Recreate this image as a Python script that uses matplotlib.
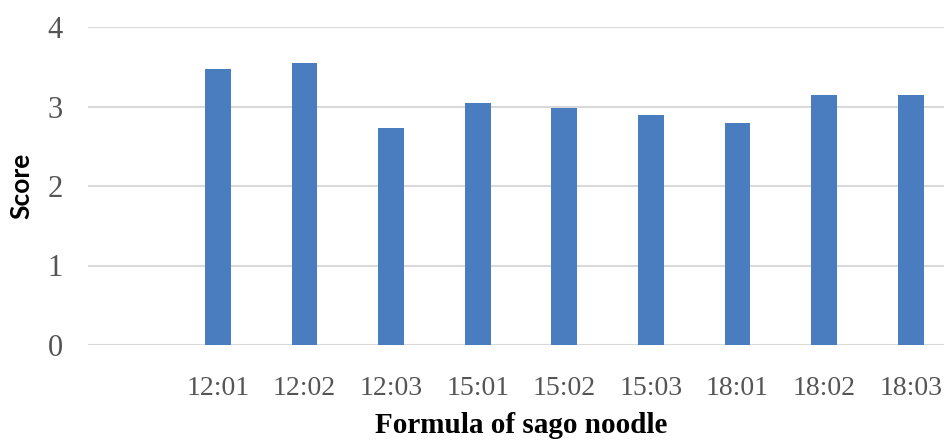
import numpy as np
import matplotlib
matplotlib.use("Agg")
import matplotlib.pyplot as plt

# sensory score per sago noodle formula
formulas = ["12:01", "12:02", "12:03", "15:01", "15:02", "15:03", "18:01", "18:02", "18:03"]
scores = [3.47, 3.55, 2.73, 3.04, 2.98, 2.89, 2.79, 3.14, 3.14]
yticks = [0, 1, 2, 3, 4]

fig = plt.figure(figsize=(9.44, 4.45), dpi=100)
# plot area runs a bit past the right edge, like the cropped original
ax = fig.add_axes([88 / 944, 100 / 445, 866 / 944, 318 / 445])

# first slot on the axis is left empty
x = np.arange(1, len(formulas) + 1)
ax.bar(x, scores, width=0.3, color="#4a7cc0", zorder=3)

ax.set_xlim(-0.5, len(formulas) + 0.5)
ax.set_ylim(0, 4)
ax.set_xticks(x)
ax.set_xticklabels(formulas)
ax.set_yticks(yticks)

ax.yaxis.grid(True, color="#d9d9d9", linewidth=1.5, zorder=0)
for s in ax.spines.values():
    s.set_visible(False)
ax.tick_params(axis="both", length=0, labelcolor="#555555", labelsize=20)
ax.tick_params(axis="x", pad=22)
ax.tick_params(axis="y", pad=18, labelsize=22)
for lab in ax.get_xticklabels() + ax.get_yticklabels():
    lab.set_family("Liberation Serif")

ax.set_xlabel("Formula of sago noodle", fontsize=21, fontweight="bold",
              family="Liberation Serif", labelpad=8)
ax.set_ylabel("Score", fontsize=19, fontweight="bold", family="Lato")
ax.yaxis.set_label_coords(-0.063, 0.5)

fig.savefig("out.png", dpi=100)
